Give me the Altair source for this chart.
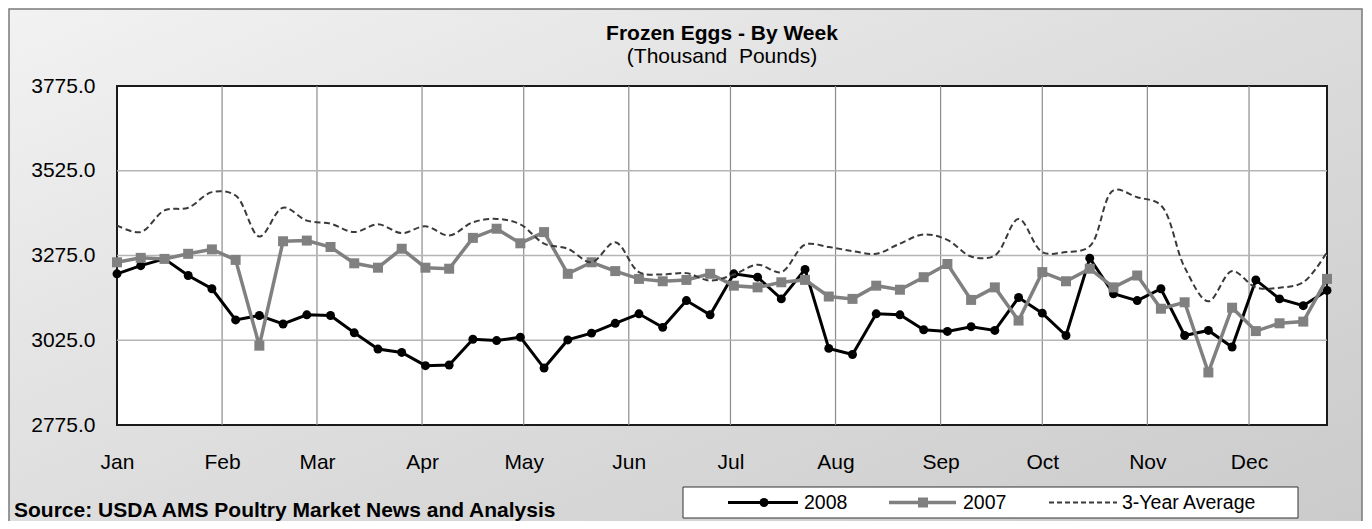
import altair as alt
import pandas as pd

# ---------------- data ----------------
AXIS_YEAR = 2007  # non-leap calendar used only for positioning weekly points
SERIES = ["2008", "2007", "3-Year Average"]
Y_TICKS = [2775, 3025, 3275, 3525, 3775]

weeks = [d.strftime("%Y-%m-%d") for d in pd.date_range(f"{AXIS_YEAR}-01-01", periods=52, freq="7D")]

y2008 = [3221, 3245, 3265, 3216, 3177, 3085, 3098, 3073, 3100, 3098, 3047, 2999, 2989,
         2950, 2952, 3028, 3024, 3034, 2943, 3026, 3046, 3075, 3103, 3063, 3142, 3100,
         3221, 3211, 3147, 3234, 3001, 2983, 3103, 3100, 3056, 3051, 3065, 3054, 3151,
         3105, 3039, 3267, 3162, 3142, 3177, 3039, 3054, 3005, 3203, 3147, 3127, 3172]

y2007 = [3255, 3268, 3265, 3280, 3293, 3262, 3009, 3317, 3319, 3300, 3252, 3239, 3295,
         3239, 3236, 3327, 3354, 3311, 3344, 3221, 3255, 3229, 3206, 3199, 3203, 3221,
         3186, 3181, 3196, 3203, 3154, 3147, 3186, 3174, 3211, 3250, 3144, 3181, 3083,
         3226, 3199, 3236, 3181, 3216, 3118, 3137, 2930, 3121, 3052, 3075, 3080, 3206]

y_avg = [3364, 3344, 3408, 3416, 3462, 3452, 3331, 3416, 3378, 3369, 3344, 3367, 3341,
         3361, 3334, 3373, 3383, 3367, 3310, 3295, 3255, 3314, 3226, 3219, 3223, 3201,
         3219, 3248, 3226, 3307, 3300, 3288, 3280, 3310, 3337, 3321, 3272, 3275, 3383,
         3285, 3285, 3302, 3467, 3447, 3423, 3240, 3140, 3229, 3181, 3180, 3196, 3285]

month_starts = [f"{AXIS_YEAR}-{m:02d}-01" for m in range(1, 13)]

df08 = pd.DataFrame({"date": weeks, "value": y2008})
df07 = pd.DataFrame({"date": weeks, "value": y2007})
dfav = pd.DataFrame({"date": weeks, "value": y_avg})
df_vgrid = pd.DataFrame({"date": month_starts[1:]})
df_hgrid = pd.DataFrame({"value": Y_TICKS[1:-1]})
one = pd.DataFrame({"k": [0]})

# ---------------- layout ----------------
W, H = 1210, 339
FONT = "Liberation Sans"

x_scale = alt.Scale(
    type="utc",
    domain=[alt.DateTime(year=AXIS_YEAR, month=1, date=1, utc=True),
            alt.DateTime(year=AXIS_YEAR, month=12, date=24, utc=True)],
)
y_scale = alt.Scale(domain=[Y_TICKS[0], Y_TICKS[-1]], nice=False, zero=False)

x_axis = alt.Axis(
    values=[alt.DateTime(year=AXIS_YEAR, month=m, date=1, utc=True) for m in range(1, 13)],
    format="%b", title=None, grid=False, ticks=False, tickSize=0, domain=False,
    labelFont=FONT, labelFontSize=21, labelColor="#000000", labelPadding=26,
    labelFlush=False, labelOverlap=False, labelAlign="center", zindex=1,
)
y_axis = alt.Axis(
    values=Y_TICKS, format=".1f", title=None, grid=False, ticks=False, tickSize=0,
    domain=False, labelFont=FONT, labelFontSize=21, labelColor="#000000",
    labelPadding=22, labelOverlap=False, labelFlush=False, zindex=1,
)

X = alt.X("date:T", scale=x_scale, axis=x_axis)
Y = alt.Y("value:Q", scale=y_scale, axis=y_axis)

gradient = alt.LinearGradient(
    gradient="linear",
    stops=[alt.GradientStop(color="#f2f2f2", offset=0),
           alt.GradientStop(color="#dcdcdc", offset=0.5),
           alt.GradientStop(color="#c9c9c9", offset=1)],
    x1=0, y1=0, x2=1, y2=1,
)

bg = alt.Chart(one).mark_rect(fill=gradient, stroke="#7a7a7a", strokeWidth=1.5).encode(
    x=alt.value(-108), x2=alt.value(1245), y=alt.value(-77), y2=alt.value(H + 150)
)
plot_bg = alt.Chart(one).mark_rect(fill="#ffffff", stroke="#1a1a1a", strokeWidth=2).encode(
    x=alt.value(0), x2=alt.value(W), y=alt.value(0), y2=alt.value(H)
)

vgrid = alt.Chart(df_vgrid).mark_rule(color="#8c8c8c", strokeWidth=1.2).encode(x=X)
hgrid = alt.Chart(df_hgrid).mark_rule(color="#b5b5b5", strokeWidth=1.5).encode(y=Y)

line08 = alt.Chart(df08).mark_line(color="#000000", strokeWidth=3).encode(x=X, y=Y)
pts08 = alt.Chart(df08).mark_point(shape="circle", filled=True, color="#000000", size=80,
                                   opacity=1).encode(x=X, y=Y)
line07 = alt.Chart(df07).mark_line(color="#808080", strokeWidth=3.5).encode(x=X, y=Y)
pts07 = alt.Chart(df07).mark_point(shape="square", filled=True, color="#808080", size=100,
                                   opacity=1).encode(x=X, y=Y)
lineav = alt.Chart(dfav).mark_line(color="#3a3a3a", strokeWidth=2, strokeDash=[6, 3.5],
                                   interpolate="catmull-rom").encode(x=X, y=Y)

# ---------------- titles and source ----------------
title = alt.Chart(one).mark_text(text="Frozen Eggs - By Week", font=FONT, fontSize=21,
                                 fontWeight="bold", color="#000000", align="center",
                                 baseline="middle").encode(x=alt.value(W / 2), y=alt.value(-52))
subtitle = alt.Chart(one).mark_text(text="(Thousand\u00a0 Pounds)", font=FONT, fontSize=21,
                                    color="#000000", align="center",
                                    baseline="middle").encode(x=alt.value(W / 2), y=alt.value(-29))
source = alt.Chart(one).mark_text(text="Source: USDA AMS Poultry Market News and Analysis",
                                  font=FONT, fontSize=21, fontWeight="bold", color="#000000",
                                  align="left", baseline="alphabetic").encode(
    x=alt.value(-103), y=alt.value(431))

# ---------------- legend ----------------
LY = 416.5
leg_box = alt.Chart(one).mark_rect(fill="#ffffff", stroke="#333333", strokeWidth=1).encode(
    x=alt.value(566), x2=alt.value(1181), y=alt.value(401), y2=alt.value(432)
)
leg_l08 = alt.Chart(one).mark_rule(color="#000000", strokeWidth=3).encode(
    x=alt.value(611), x2=alt.value(681), y=alt.value(LY))
leg_p08 = alt.Chart(one).mark_point(shape="circle", filled=True, color="#000000", size=80,
                                    opacity=1).encode(x=alt.value(647), y=alt.value(LY))
leg_t08 = alt.Chart(one).mark_text(text=SERIES[0], font=FONT, fontSize=19.5, align="left",
                                   baseline="middle", color="#000000").encode(
    x=alt.value(687), y=alt.value(LY))
leg_l07 = alt.Chart(one).mark_rule(color="#808080", strokeWidth=3.5).encode(
    x=alt.value(772), x2=alt.value(839), y=alt.value(LY))
leg_p07 = alt.Chart(one).mark_point(shape="square", filled=True, color="#808080", size=100,
                                    opacity=1).encode(x=alt.value(806), y=alt.value(LY))
leg_t07 = alt.Chart(one).mark_text(text=SERIES[1], font=FONT, fontSize=19.5, align="left",
                                   baseline="middle", color="#000000").encode(
    x=alt.value(846), y=alt.value(LY))
leg_lav = alt.Chart(one).mark_rule(color="#3a3a3a", strokeWidth=2, strokeDash=[5, 3]).encode(
    x=alt.value(932), x2=alt.value(1000), y=alt.value(LY))
leg_tav = alt.Chart(one).mark_text(text=SERIES[2], font=FONT, fontSize=19.5, align="left",
                                   baseline="middle", color="#000000").encode(
    x=alt.value(1005), y=alt.value(LY))

chart = alt.layer(
    bg, plot_bg, vgrid, hgrid, line08, pts08, line07, pts07, lineav,
    title, subtitle, source,
    leg_box, leg_l08, leg_p08, leg_t08, leg_l07, leg_p07, leg_t07, leg_lav, leg_tav,
).properties(
    width=W, height=H,
    autosize=alt.AutoSizeParams(type="none"),
    padding={"left": 109, "top": 78, "right": 37, "bottom": 96},
).configure_view(stroke=None, fill=None).configure(background="#ffffff")

chart.save("out.html", embed_options={"renderer": "svg", "actions": False})
